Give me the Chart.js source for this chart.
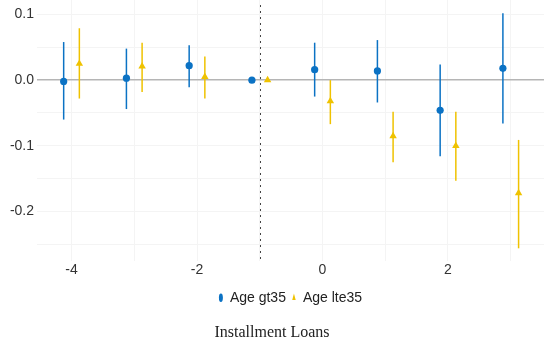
<!DOCTYPE html>
<html>
<head>
<meta charset="utf-8">
<script src="https://cdn.jsdelivr.net/npm/chart.js@4/dist/chart.umd.min.js"></script>
<style>
html,body{margin:0;padding:0;background:#fff;}
#wrap{width:544px;height:342px;position:relative;}
</style>
</head>
<body>
<div id="wrap"><canvas id="c" width="544" height="342"></canvas></div>
<script>
// ---- data ----
const categories = [-4, -3, -2, -1, 0, 1, 2, 3];
const seriesNames = ['Age gt35', 'Age lte35'];
const gt35   = [-0.002, 0.003, 0.022, 0.000, 0.016, 0.014, -0.046, 0.018];
const gt35Lo = [-0.060, -0.044, -0.011, null, -0.025, -0.034, -0.116, -0.066];
const gt35Hi = [0.058, 0.048, 0.053, null, 0.057, 0.061, 0.024, 0.102];
const lte35   = [0.025, 0.021, 0.005, 0.000, -0.032, -0.085, -0.100, -0.172];
const lte35Lo = [-0.028, -0.018, -0.028, null, -0.067, -0.125, -0.153, -0.256];
const lte35Hi = [0.079, 0.057, 0.036, null, 0.000, -0.048, -0.048, -0.091];
const xTickLabels = [-4, -2, 0, 2];
const yTickLabels = [-0.2, -0.1, 0.0, 0.1];
const refLineX = -1;
const chartTitle = 'Installment Loans';

// ---- styling ----
const BLUE = '#0b72c4';
const GOLD = '#efc200';
const DODGE = 0.125;

function pts(vals, off) {
  return categories.map((c, i) => ({x: c + off, y: vals[i]}));
}

const errorBars = {
  id: 'errorBars',
  beforeDatasetsDraw(chart) {
    const {ctx, scales: {x, y}, chartArea} = chart;
    ctx.save();
    // dotted reference line
    const rx = Math.round(x.getPixelForValue(refLineX)) + 0.5;
    ctx.strokeStyle = '#444';
    ctx.lineWidth = 1;
    ctx.setLineDash([2, 4]);
    ctx.beginPath();
    ctx.moveTo(rx, chartArea.top + 5);
    ctx.lineTo(rx, chartArea.bottom - 1);
    ctx.stroke();
    ctx.setLineDash([]);
    const sets = [
      {lo: gt35Lo, hi: gt35Hi, off: -DODGE, color: BLUE},
      {lo: lte35Lo, hi: lte35Hi, off: DODGE, color: GOLD}
    ];
    sets.forEach(s => {
      ctx.strokeStyle = s.color;
      ctx.lineWidth = 1.5;
      categories.forEach((c, i) => {
        if (s.lo[i] === null || s.hi[i] === null) return;
        const px = x.getPixelForValue(c + s.off);
        ctx.beginPath();
        ctx.moveTo(px, y.getPixelForValue(s.lo[i]));
        ctx.lineTo(px, y.getPixelForValue(s.hi[i]));
        ctx.stroke();
      });
    });
    ctx.restore();
  }
};

new Chart(document.getElementById('c'), {
  type: 'scatter',
  data: {
    datasets: [
      {label: seriesNames[0], data: pts(gt35, -DODGE), pointStyle: 'circle', pointRadius: 3.6,
       backgroundColor: BLUE, borderColor: BLUE, borderWidth: 0, pointHoverRadius: 3.6},
      {label: seriesNames[1], data: pts(lte35, DODGE), pointStyle: 'triangle', pointRadius: 4.3,
       backgroundColor: GOLD, borderColor: GOLD, borderWidth: 0, pointHoverRadius: 4.3}
    ]
  },
  options: {
    responsive: false,
    animation: false,
    devicePixelRatio: 1,
    layout: {autoPadding: false, padding: {left: 0, right: 0, top: 0, bottom: 0}},
    scales: {
      x: {
        type: 'linear', min: -4.55, max: 3.53,
        border: {display: false},
        grid: {color: '#f4f4f4', lineWidth: 1, drawTicks: false},
        ticks: {
          stepSize: 1, includeBounds: false, autoSkip: false, padding: 1,
          color: '#333', font: {family: "'Liberation Sans', Arial, sans-serif", size: 14},
          callback: v => xTickLabels.includes(Math.round(v)) && Math.abs(v - Math.round(v)) < 1e-6 ? String(Math.round(v)) : ''
        },
        afterFit: s => { s.height = 24; s.paddingLeft = 0; s.paddingRight = 0; }
      },
      y: {
        type: 'linear', min: -0.275, max: 0.122,
        border: {display: false},
        grid: {
          color: c => Math.abs(c.tick.value) < 1e-9 ? '#b5b5b5' : '#f4f4f4',
          lineWidth: c => Math.abs(c.tick.value) < 1e-9 ? 1.6 : 1,
          drawTicks: false
        },
        ticks: {
          stepSize: 0.05, includeBounds: false, autoSkip: false, padding: 3,
          color: '#333', font: {family: "'Liberation Sans', Arial, sans-serif", size: 14},
          callback: v => {
            const hit = yTickLabels.find(t => Math.abs(t - v) < 1e-6);
            return hit === undefined ? '' : hit.toFixed(1);
          }
        },
        afterFit: s => { s.width = 37; s.paddingTop = 0; s.paddingBottom = 0; }
      }
    },
    plugins: {
      legend: {
        position: 'bottom', fullSize: false,
        labels: {
          usePointStyle: true, pointStyleWidth: 4, boxWidth: 4, boxHeight: 6, padding: 6,
          color: '#222', font: {family: "'Liberation Sans', Arial, sans-serif", size: 14}
        }
      },
      title: {
        display: true, text: chartTitle, position: 'bottom',
        color: '#222', font: {family: "'Liberation Serif', 'Times New Roman', serif", size: 16, weight: 'normal'},
        padding: {top: 8, bottom: 0}
      },
      tooltip: {enabled: false}
    }
  },
  plugins: [errorBars]
});
</script>
</body>
</html>
